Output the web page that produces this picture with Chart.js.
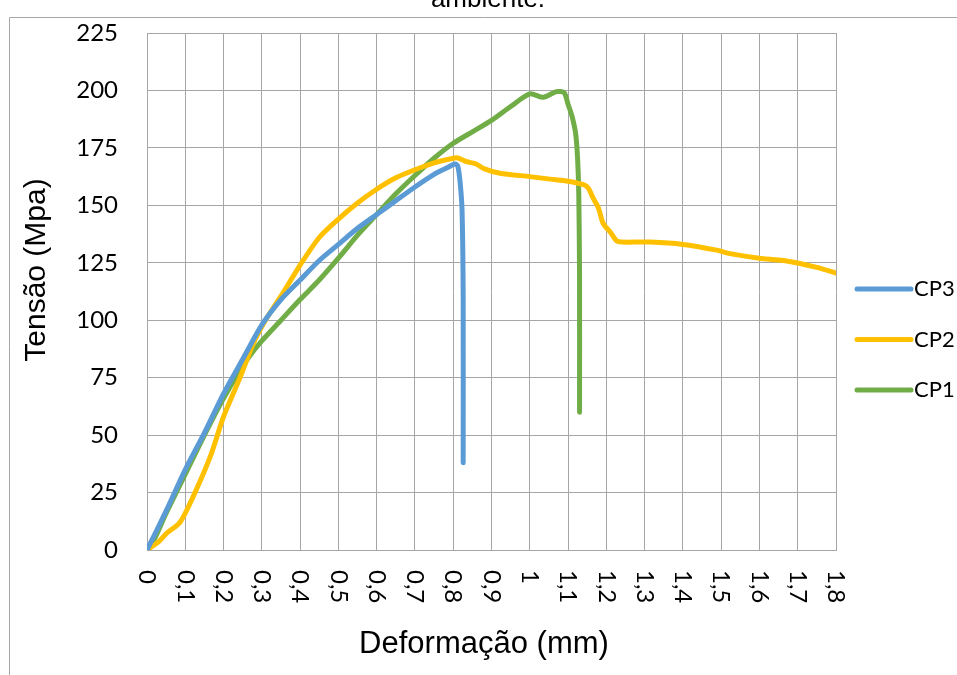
<!DOCTYPE html>
<html>
<head>
<meta charset="utf-8">
<script src="https://cdn.jsdelivr.net/npm/chart.js@4.4.1/dist/chart.umd.min.js"></script>
<style>
    body { margin: 0; background: #fff; }
    canvas { display: block; }
</style>
</head>
<body>
<canvas id="ensaioChart" width="957" height="675"></canvas>
<script>
// ===== DATA =====
var seriesNames = ['CP3', 'CP2', 'CP1'];
var seriesColors = ['#5b9bd5', '#ffc000', '#70ad47'];

// CP3
var cp3X = [0, 0.05, 0.1, 0.15, 0.2, 0.25, 0.3, 0.35, 0.4, 0.45, 0.5, 0.55, 0.6, 0.65, 0.7, 0.75, 0.78, 0.805, 0.812, 0.818, 0.823, 0.826, 0.826];
var cp3Y = [0, 17, 35, 51, 68, 83, 98, 109, 117.5, 126, 133, 140, 146, 152, 158, 163.5, 166, 168, 167, 160, 148, 110, 38];

// CP2
var cp2X = [0, 0.03, 0.052, 0.086, 0.12, 0.165, 0.2, 0.243, 0.278, 0.313, 0.352, 0.4, 0.45, 0.5, 0.55, 0.6, 0.65, 0.7, 0.75, 0.8, 0.812, 0.835, 0.86, 0.88, 0.922, 1.0, 1.053, 1.1, 1.14, 1.153, 1.166, 1.179, 1.192, 1.21, 1.227, 1.24, 1.314, 1.4, 1.488, 1.523, 1.6, 1.663, 1.75, 1.8];
var cp2Y = [0, 3.5, 7.4, 12, 23, 40.5, 58, 75, 90, 101, 111, 124, 136, 144, 151, 157, 162, 165.5, 168.5, 170.5, 170.6, 169, 168, 166, 164, 162.5, 161.4, 160.5, 159, 157.5, 153, 149, 142, 138.4, 134.5, 134, 134, 133, 130.5, 129, 127, 126, 123, 120.5];

// CP1
var cp1X = [0, 0.02, 0.05, 0.1, 0.15, 0.2, 0.25, 0.28, 0.3, 0.35, 0.4, 0.45, 0.5, 0.55, 0.6, 0.65, 0.7, 0.75, 0.8, 0.85, 0.9, 0.95, 1.0, 1.035, 1.07, 1.09, 1.1, 1.11, 1.12, 1.125, 1.128, 1.13, 1.13];
var cp1Y = [0, 5, 16, 33, 50, 66, 80, 87, 91, 100, 109, 117.5, 127, 137, 146, 155, 163, 170.5, 177, 182, 187, 193, 198.5, 197, 199.5, 199, 194, 189, 181, 170, 155, 120, 60];

// tick labels
var xTickValues = [0, 0.1, 0.2, 0.3, 0.4, 0.5, 0.6, 0.7, 0.8, 0.9, 1, 1.1, 1.2, 1.3, 1.4, 1.5, 1.6, 1.7, 1.8];
var xTickLabels = ['0', '0,1', '0,2', '0,3', '0,4', '0,5', '0,6', '0,7', '0,8', '0,9', '1', '1,1', '1,2', '1,3', '1,4', '1,5', '1,6', '1,7', '1,8'];
var yTickLabels = ['0', '25', '50', '75', '100', '125', '150', '175', '200', '225'];

var chartTitle = 'ambiente.';
var xTitle = 'Deformação (mm)';
var yTitle = 'Tensão (Mpa)';

function toPoints(xs, ys) {
    return xs.map(function(x, i) { return { x: x, y: ys[i] }; });
}

var allX = [cp3X, cp2X, cp1X];
var allY = [cp3Y, cp2Y, cp1Y];

// ===== DECORATION: frame, rotated x labels, titles, legend =====
var decorPlugin = {
    id: 'decor',
    beforeDraw: function(chart) {
        var ctx = chart.ctx;
        ctx.save();
        ctx.strokeStyle = '#a6a6a6';
        ctx.lineWidth = 1;
        ctx.beginPath();
        ctx.moveTo(9.5, 675);
        ctx.lineTo(9.5, 17.5);
        ctx.lineTo(957, 17.5);
        ctx.stroke();
        ctx.restore();
    },
    afterDraw: function(chart) {
        var ctx = chart.ctx;
        var xs = chart.scales.x;
        var area = chart.chartArea;
        ctx.save();
        ctx.fillStyle = '#000';

        // cut-off title above the frame
        ctx.font = '26px "Liberation Sans", Arial, sans-serif';
        ctx.textAlign = 'center';
        ctx.textBaseline = 'alphabetic';
        ctx.fillText(chartTitle, 488, 7);

        // x tick labels, rotated clockwise
        ctx.font = '24px Lato, sans-serif';
        ctx.textAlign = 'left';
        ctx.textBaseline = 'middle';
        xTickValues.forEach(function(v, i) {
            ctx.save();
            ctx.translate(xs.getPixelForValue(v), area.bottom + 20);
            ctx.rotate(Math.PI / 2);
            ctx.fillText(xTickLabels[i], 0, 0);
            ctx.restore();
        });

        // axis titles
        ctx.font = '31px "Liberation Sans", Arial, sans-serif';
        ctx.textAlign = 'center';
        ctx.textBaseline = 'middle';
        ctx.fillText(xTitle, 484, 644);
        ctx.save();
        ctx.translate(37, 270);
        ctx.rotate(-Math.PI / 2);
        ctx.font = '30px "Liberation Sans", Arial, sans-serif';
        ctx.fillText(yTitle, 0, 0);
        ctx.restore();

        // legend
        ctx.font = '22px Lato, sans-serif';
        ctx.textAlign = 'left';
        ctx.lineCap = 'round';
        ctx.lineWidth = 5;
        chart.data.datasets.forEach(function(ds, i) {
            var ly = 289 + i * 50.5;
            ctx.strokeStyle = ds.borderColor;
            ctx.beginPath();
            ctx.moveTo(857, ly);
            ctx.lineTo(911, ly);
            ctx.stroke();
            ctx.fillText(ds.label, 914, ly);
        });
        ctx.restore();
    }
};

// ===== CHART =====
var datasets = seriesNames.map(function(name, i) {
    return {
        label: name,
        data: toPoints(allX[i], allY[i]),
        borderColor: seriesColors[i],
        backgroundColor: seriesColors[i],
        borderWidth: 5,
        borderCapStyle: 'round',
        borderJoinStyle: 'round',
        pointRadius: 0,
        tension: 0.25,
        fill: false
    };
});

new Chart(document.getElementById('ensaioChart').getContext('2d'), {
    type: 'line',
    data: { datasets: datasets },
    options: {
        responsive: false,
        animation: false,
        layout: { padding: { left: 0, top: 33, right: 121, bottom: 0 } },
        plugins: {
            legend: { display: false },
            tooltip: { enabled: false }
        },
        scales: {
            x: {
                type: 'linear',
                min: 0,
                max: 1.8,
                ticks: { display: false, stepSize: 0.1 },
                grid: { color: '#a6a6a6', lineWidth: 1, drawTicks: false },
                border: { color: '#a6a6a6' },
                afterFit: function(scale) { scale.height = 125; }
            },
            y: {
                min: 0,
                max: 225,
                ticks: {
                    stepSize: 25,
                    padding: 3,
                    color: '#000',
                    font: { family: 'Lato', size: 24 },
                    callback: function(value) { return yTickLabels[Math.round(value / 25)]; }
                },
                // invisible tick marks keep the labels away from the axis
                grid: { color: '#a6a6a6', lineWidth: 1, drawTicks: true, tickLength: 26, tickColor: 'rgba(0,0,0,0)' },
                border: { color: '#a6a6a6' },
                afterFit: function(scale) { scale.width = 147; }
            }
        }
    },
    plugins: [decorPlugin]
});
</script>
</body>
</html>
